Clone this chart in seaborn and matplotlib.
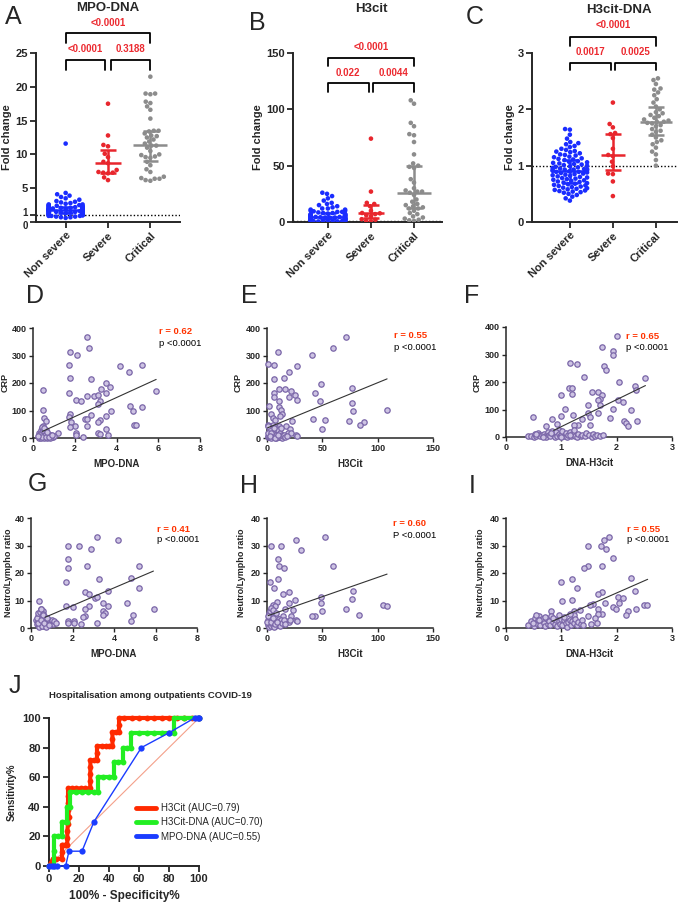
import numpy as np
import pandas as pd
import matplotlib
matplotlib.use('Agg')
import matplotlib.pyplot as plt
import matplotlib.transforms as mtransforms
import seaborn as sns
from matplotlib.lines import Line2D

sns.set_style('ticks')
plt.rcParams['font.family'] = ['Liberation Sans', 'DejaVu Sans']
plt.rcParams['font.weight'] = 'bold'
plt.rcParams['axes.labelweight'] = 'bold'

# ---------------- data ----------------
groups = ['Non severe', 'Severe', 'Critical']
group_colors = ['#1a2cff', '#e8262d', '#8c8c8c']

# A - MPO-DNA fold change
mpo_nonsevere = [11.6, 4.3, 4.1, 3.9, 3.7, 3.5, 3.3, 3.1, 3.0, 2.9, 2.8, 2.7, 2.6, 2.6, 2.5, 2.5,
                 2.4, 2.4, 2.3, 2.3, 2.3, 2.2, 2.2, 2.2, 2.1, 2.1, 2.1, 2.1, 2.0, 2.0, 2.0, 2.0,
                 1.9, 1.9, 1.9, 1.9, 1.9, 1.8, 1.8, 1.8, 1.8, 1.8, 1.7, 1.7, 1.7, 1.7, 1.7, 1.6,
                 1.6, 1.6, 1.6, 1.6, 1.5, 1.5, 1.5, 1.5, 1.5, 1.4, 1.4, 1.4, 1.4, 1.3, 1.3, 1.3,
                 1.3, 1.2, 1.2, 1.2, 1.1, 1.1, 1.1, 1.0, 1.0, 1.0, 0.9, 0.9, 0.9, 0.8, 0.8, 0.7,
                 0.7, 0.6]
mpo_severe = [17.5, 12.8, 11.4, 11.2, 10.1, 9.6, 8.9, 8.7, 7.7, 7.4, 7.3, 7.3, 7.2, 6.6, 6.2]
mpo_critical = [21.5, 19.0, 19.0, 18.9, 17.8, 17.6, 17.1, 16.6, 15.3, 13.5, 13.5, 13.4, 13.1,
                12.8, 12.7, 12.5, 12.2, 11.9, 11.6, 11.3, 11.3, 11.0, 10.5, 10.0, 9.9, 9.7,
                9.6, 9.5, 8.9, 8.4, 7.8, 7.4, 6.7, 6.5, 6.4, 6.4, 6.2, 6.1]

# B - H3cit fold change
h3_nonsevere = [26, 25, 23, 21, 19, 17, 16, 15, 14, 13, 12, 12, 11, 11, 10, 10, 9.5, 9, 9, 8.5,
                8, 8, 7.5, 7, 7, 6.5, 6.5, 6, 6, 6, 5.5, 5.5, 5, 5, 5, 5, 4.5, 4.5, 4.5, 4, 4,
                4, 4, 3.5, 3.5, 3.5, 3, 3, 3, 3, 2.5, 2.5, 2.5, 2, 2, 2, 2, 1.5, 1.5, 1.5, 1, 1,
                1, 1, 0.8, 0.6, 0.5, 0.4, 0.3, 0.2, 3.2, 4.2, 5.2, 2.8, 1.8, 6.2, 7.2, 3.8, 2.2, 4.8]
h3_severe = [74, 27, 17, 16, 14, 10, 8, 7.7, 7, 6, 5, 2.5, 2, 1, 0.5]
h3_critical = [108, 105, 88, 85, 78, 77, 71, 60, 52, 50, 49, 48, 38, 35, 30, 28, 27, 27, 26, 24,
               20, 18, 16, 15, 14, 13, 12, 12, 10, 8, 7, 5, 4, 3, 2, 1, 1.5]

# C - H3cit-DNA fold change
dna_nonsevere = [1.65, 1.64, 1.55, 1.48, 1.42, 1.40, 1.38, 1.35, 1.33, 1.30, 1.28, 1.26, 1.25,
                 1.22, 1.20, 1.18, 1.16, 1.15, 1.13, 1.12, 1.10, 1.08, 1.07, 1.05, 1.04, 1.02,
                 1.01, 1.00, 0.99, 0.98, 0.96, 0.95, 0.94, 0.93, 0.92, 0.92, 0.91, 0.90, 0.89,
                 0.88, 0.87, 0.86, 0.85, 0.84, 0.83, 0.82, 0.80, 0.79, 0.78, 0.77, 0.76, 0.75,
                 0.74, 0.73, 0.72, 0.71, 0.70, 0.69, 0.68, 0.67, 0.66, 0.65, 0.64, 0.63, 0.62,
                 0.61, 0.60, 0.59, 0.58, 0.57, 0.56, 0.55, 0.54, 0.53, 0.52, 0.50, 0.48, 0.45,
                 0.42, 0.38, 1.11, 1.06, 0.97, 0.93, 0.89, 0.81, 1.24, 1.19, 1.03, 0.94]
dna_severe = [2.12, 1.74, 1.68, 1.58, 1.56, 1.49, 1.30, 1.19, 1.17, 1.07, 0.99, 0.86, 0.85, 0.72, 0.46]
dna_critical = [2.55, 2.52, 2.45, 2.37, 2.35, 2.30, 2.25, 2.18, 2.12, 2.05, 2.0, 1.95, 1.93, 1.9,
                1.88, 1.85, 1.82, 1.8, 1.78, 1.78, 1.76, 1.75, 1.72, 1.7, 1.65, 1.62, 1.6, 1.55,
                1.5, 1.45, 1.42, 1.38, 1.32, 1.25, 1.2, 1.1, 1.0]

# D - MPO-DNA vs CRP
d_pts = [(2.59, 367), (2.69, 328), (1.79, 313), (2.11, 301), (1.71, 267), (4.19, 261), (5.2, 265),
         (4.61, 241), (1.79, 219), (2.8, 214), (3.52, 199), (3.68, 184), (3.28, 178), (3.49, 164),
         (1.71, 165), (5.89, 171), (0.5, 175), (2.61, 151), (2.93, 151), (3.12, 157), (3.2, 133),
         (2.05, 139), (2.32, 135), (3.12, 124), (4.67, 117), (5.2, 112), (4.8, 99), (0.48, 102),
         (3.73, 100), (1.79, 89), (2.8, 84), (3.49, 81), (1.71, 76), (0.51, 72), (2.48, 70),
         (2.59, 70), (3.2, 67), (0.61, 63), (1.84, 60), (3.09, 60), (2.0, 45), (1.79, 39),
         (2.61, 42), (4.86, 46), (4.93, 48), (3.49, 34), (2.08, 18), (2.08, 12), (3.12, 18),
         (3.23, 16), (3.6, 10), (2.4, 2), (1.2, 18),
         (0.3, 5), (0.35, 2), (0.4, 8), (0.45, 12), (0.5, 3), (0.55, 6), (0.6, 15), (0.65, 4),
         (0.7, 9), (0.75, 2), (0.8, 7), (0.85, 11), (0.9, 3), (0.3, 20), (0.38, 28), (0.42, 35),
         (0.5, 45), (0.55, 25), (0.48, 18), (0.62, 30), (0.35, 14), (0.58, 10), (0.72, 14),
         (0.95, 5), (1.0, 8), (0.28, 1), (0.4, 1), (0.52, 1), (0.66, 1), (0.8, 1), (0.33, 10),
         (0.44, 4), (0.6, 2), (0.78, 5), (0.5, 30), (0.45, 40), (0.55, 38), (0.68, 22),
         (0.25, 8), (0.9, 12)]
d_fit = ([0.45, 5.9], [24, 213])

# E - H3Cit vs CRP
e_pts = [(71, 367), (60, 327), (41, 301), (10, 313), (1, 268), (6, 264), (27, 261), (20, 240),
         (6, 213), (15, 219), (49, 198), (77, 183), (11, 177), (16, 177), (22, 170), (25, 158),
         (43, 164), (6, 165), (6, 149), (20, 149), (48, 133), (27, 137), (11, 135), (77, 127),
         (2, 116), (11, 113), (13, 103), (78, 99), (108, 101), (4, 88), (14, 86), (12, 80),
         (5, 74), (7, 67), (42, 70), (52, 67), (23, 61), (74, 61), (88, 58), (84, 48), (17, 44),
         (11, 44), (50, 34), (21, 34), (19, 19), (22, 18), (26, 10), (27, 7), (1, 46), (5, 46),
         (0.5, 2), (1, 8), (1.5, 15), (2, 3), (2.5, 25), (3, 5), (3.5, 12), (4, 1), (4.5, 30),
         (5, 7), (5.5, 18), (6, 2), (6.5, 10), (7, 40), (7.5, 4), (8, 22), (8.5, 1), (9, 14),
         (9.5, 6), (10, 28), (10.5, 3), (11, 9), (11.5, 17), (12, 2), (12.5, 35), (13, 5),
         (13.5, 12), (14, 1), (14.5, 8), (2, 40), (3, 33), (1, 20), (0.8, 45), (6, 36), (8, 12),
         (9, 3), (4, 18), (3, 9), (7, 1), (10, 12), (15, 10), (16, 5), (18, 8)]
e_fit = ([0.5, 108.5], [37, 215])

# F - DNA-H3cit vs CRP
f_pts = [(2.01, 367), (1.73, 327), (1.93, 314), (1.93, 298), (1.16, 268), (1.29, 265), (1.78, 260),
         (1.80, 242), (1.41, 220), (2.52, 216), (2.04, 199), (2.33, 184), (1.0, 151), (1.13, 178),
         (1.19, 178), (1.2, 157), (1.55, 165), (1.67, 163), (1.74, 151), (1.70, 139), (1.66, 135),
         (2.03, 135), (2.11, 126), (2.35, 172), (1.49, 115), (1.69, 115), (1.07, 103), (2.25, 99),
         (1.93, 103), (1.21, 81), (1.0, 77), (1.48, 87), (1.67, 87), (1.51, 71), (1.88, 69),
         (0.48, 71), (1.37, 66), (0.83, 66), (2.13, 60), (2.36, 59), (2.16, 50), (2.21, 39),
         (1.52, 45), (1.31, 45), (1.23, 42), (0.93, 47), (0.73, 39), (0.95, 27), (0.83, 23),
         (0.4, 2), (0.45, 5), (0.5, 1), (0.52, 10), (0.55, 3), (0.58, 15), (0.6, 6), (0.62, 2),
         (0.65, 8), (0.68, 12), (0.7, 4), (0.72, 1), (0.75, 20), (0.78, 7), (0.8, 3), (0.85, 10),
         (0.88, 1), (0.9, 18), (0.92, 5), (0.95, 12), (0.98, 2), (1.0, 8), (1.02, 22), (1.05, 4),
         (1.08, 14), (1.1, 1), (1.12, 6), (1.15, 18), (1.18, 3), (1.2, 10), (1.22, 26), (1.25, 5),
         (1.28, 1), (1.3, 12), (1.35, 4), (1.38, 8), (1.42, 2), (1.45, 15), (1.5, 6), (1.55, 1),
         (1.58, 10), (1.6, 3), (1.65, 8), (1.7, 2), (1.75, 9), (0.55, 12), (0.66, 1), (0.82, 14),
         (1.0, 1), (1.15, 9)]
f_fit = ([0.86, 2.52], [24, 187])

# G - MPO-DNA vs Neutro/Lympho ratio
g_pts = [(3.2, 33.1), (4.19, 31.9), (1.8, 29.8), (2.32, 29.9), (2.9, 28.6), (1.8, 25.1), (1.8, 21.7),
         (2.69, 22.5), (5.19, 22.5), (1.69, 16.9), (3.29, 17.8), (4.81, 18.3), (5.19, 14.5),
         (3.69, 13.6), (2.61, 13.0), (2.8, 12.3), (3.09, 10.8), (3.17, 11.2), (1.67, 8.1), (2.8, 8.1),
         (3.7, 8.1), (2.01, 7.6), (3.49, 9.0), (4.62, 9.0), (2.61, 6.9), (5.91, 7.0), (3.49, 6.3),
         (3.57, 5.4), (4.91, 4.8), (2.61, 4.2), (3.49, 4.6), (2.5, 3.9), (1.8, 2.7), (1.8, 2.0),
         (2.08, 2.7), (2.08, 1.8), (2.4, 1.4), (3.2, 1.8), (4.81, 2.7), (0.4, 9.9), (0.47, 7.0),
         (0.6, 6.3),
         (0.25, 3), (0.3, 1.5), (0.32, 4.5), (0.35, 2.5), (0.38, 0.8), (0.4, 3.5), (0.42, 1.8),
         (0.45, 5), (0.48, 2.8), (0.5, 1.2), (0.52, 4), (0.55, 2.2), (0.58, 0.6), (0.6, 3.2),
         (0.62, 1.6), (0.65, 4.4), (0.68, 2.6), (0.7, 1.0), (0.72, 3.6), (0.75, 2.0), (0.8, 1.4),
         (0.85, 3.0), (0.9, 2.4), (0.95, 1.8), (1.0, 2.8), (1.05, 1.6), (1.1, 2.6), (1.2, 2.0),
         (0.3, 3.8), (0.36, 5.6), (0.44, 6.0), (0.5, 6.8), (0.56, 5.2), (0.6, 4.8), (0.4, 0.5),
         (0.55, 0.9), (0.7, 0.4), (0.33, 2.0), (0.47, 3.0), (0.63, 2.0), (0.78, 3.8), (0.88, 1.0)]
g_fit = ([0.68, 5.9], [3.9, 20.7])

# H - H3Cit vs Neutro/Lympho ratio
h_pts = [(52, 33.1), (26.5, 31.9), (4, 29.8), (12.3, 29.9), (31, 28.3), (10, 25.1), (10.8, 22.5),
         (15, 21.7), (60, 22.5), (10, 17.7), (2.4, 16.9), (6.3, 14.5), (77.7, 13.6), (19.6, 13.0),
         (14.5, 12.3), (48.5, 11.2), (76.8, 10.6), (25, 10.2), (9, 9.6), (5.4, 8.2), (6.9, 8.1),
         (19.6, 9.0), (49, 9.0), (104.8, 8.2), (108.4, 8.1), (71, 6.9), (50, 6.3), (16, 6.9),
         (23.5, 6.4), (83, 4.8), (43, 4.5), (41, 4.2), (22, 4.5), (26.5, 3.0), (27.4, 2.7),
         (17.5, 2.4), (20, 2.2), (12, 1.6), (20.5, 3.0), (14.5, 4.2),
         (0.5, 1), (1, 3), (1.5, 0.5), (2, 2), (2.5, 4), (3, 1.5), (3.5, 3.5), (4, 0.8), (4.5, 2.5),
         (5, 5), (5.5, 1.2), (6, 3), (6.5, 2), (7, 4.5), (7.5, 0.6), (8, 2.8), (8.5, 1.8), (9, 3.8),
         (9.5, 1), (10, 2.4), (10.5, 3.2), (11, 1.5), (11.5, 2.6), (12, 0.9), (13, 3), (14, 2),
         (15, 2.8), (16, 1.6), (2, 5.5), (3, 6.2), (4, 7.2), (5, 6.5), (1, 4.2), (0.3, 2.2),
         (6, 0.3), (8, 5.5), (3.5, 2.2), (5.5, 3.8), (7, 1.5), (9, 2.2)]
h_fit = ([1, 108.5], [4.5, 19.6])

# I - DNA-H3cit vs Neutro/Lympho ratio
i_pts = [(1.87, 33.1), (1.78, 31.9), (1.71, 29.9), (1.49, 29.8), (1.81, 28.6), (1.94, 25.3),
         (1.49, 22.5), (1.73, 22.5), (1.41, 21.9), (2.25, 18.3), (1.19, 17.8), (1.0, 16.9),
         (1.29, 14.5), (2.34, 13.6), (1.74, 13.0), (1.67, 12.4), (2.03, 11.4), (2.11, 10.8),
         (1.2, 10.2), (1.02, 9.9), (1.57, 8.7), (1.79, 9.0), (2.04, 9.0), (1.94, 7.8), (2.5, 8.2),
         (2.54, 8.2), (1.52, 8.2), (1.99, 6.9), (2.35, 7.0), (1.34, 6.6), (1.66, 7.0), (0.82, 6.3),
         (1.23, 6.3), (2.21, 6.3), (1.73, 5.2), (2.16, 4.8), (1.67, 5.1), (1.49, 4.2), (1.61, 3.6),
         (1.22, 4.8), (1.54, 1.4), (1.64, 1.8),
         (0.4, 1.2), (0.45, 2.5), (0.5, 0.8), (0.52, 3.8), (0.55, 1.8), (0.58, 2.8), (0.6, 4.2),
         (0.62, 1.0), (0.65, 3.2), (0.68, 2.0), (0.7, 0.6), (0.72, 3.6), (0.75, 1.5), (0.78, 2.6),
         (0.8, 1.0), (0.82, 4.5), (0.85, 2.2), (0.88, 1.4), (0.9, 3.0), (0.92, 0.7), (0.95, 2.4),
         (0.98, 1.6), (1.0, 3.4), (1.02, 1.1), (1.05, 2.8), (1.08, 1.8), (1.1, 0.5), (1.12, 2.2),
         (1.15, 3.0), (1.18, 1.2), (1.2, 2.5), (1.22, 1.8), (1.25, 3.2), (1.28, 1.0), (1.3, 2.2),
         (1.35, 1.6), (1.38, 2.8), (1.4, 1.2), (0.55, 4.8), (0.7, 4.0), (0.6, 3.0), (0.95, 4.6),
         (1.05, 4.0), (0.48, 2.0), (0.85, 3.6), (1.16, 5.0)]
i_fit = ([0.83, 2.56], [2.4, 17.7])

# J - ROC curves
h3_fpr = [0, 2.7, 5, 8.7, 8.7, 8.7, 10.5, 12.2, 12.2, 12.2, 12.7, 13.3, 12.7, 12.7, 12.7, 12.7,
          15, 18, 21, 24, 27.5, 27.5, 27.5, 27.6, 27.6, 30, 32, 32, 32, 35, 38, 40, 42.3, 42.3,
          42.3, 44.5, 46.7, 46.7, 46.7, 50, 55, 60, 65, 70, 75, 80, 85, 90, 95, 100]
h3_tpr = [0, 4.8, 4.8, 4.8, 9.5, 14.3, 14.3, 14.3, 19, 23.8, 28.6, 33.3, 38.1, 42.9, 47.6, 52.4,
          52.4, 52.4, 52.4, 52.4, 52.4, 57.1, 61.9, 66.7, 71.4, 71.4, 71.4, 76.2, 81, 81, 81, 81,
          81, 85.7, 90.5, 90.5, 90.5, 95.2, 100, 100, 100, 100, 100, 100, 100, 100, 100, 100, 100, 100]
dna_fpr = [0, 3.5, 3.5, 3.5, 6, 9, 9, 11, 12, 12, 14, 14, 18, 22, 26, 30, 32.7, 32.7, 36, 40, 43,
           43, 46, 49.5, 49.5, 52, 54.5, 54.5, 60, 65, 70, 75, 80, 83.5, 83.5, 90, 100]
dna_tpr = [0, 0, 10, 20, 20, 20, 30, 30, 30, 40, 40, 50, 50, 50, 50, 50, 50, 60, 60, 60, 60, 70,
           70, 70, 80, 80, 80, 90, 90, 90, 90, 90, 90, 90, 100, 100, 100]
mpo_fpr = [0, 2.2, 3.3, 5.5, 11.1, 13.3, 22, 30, 61.6, 80, 97, 99.3, 100]
mpo_tpr = [0, 0, 0, 0, 0, 10, 10, 30, 80, 90, 100, 100, 100]
roc_labels = ['H3Cit (AUC=0.79)', 'H3Cit-DNA (AUC=0.70)', 'MPO-DNA (AUC=0.55)']
roc_colors = ['#ff2a00', '#22ee22', '#1a3cff']

RED = '#ec2a30'
R_RED = '#ff3300'
PURPLE_EDGE = '#7a66a8'
PURPLE_FILL = '#cdc3e3'

W, H = 685, 902
fig = plt.figure(figsize=(W / 100, H / 100), dpi=100)


def box(x0, y0, x1, y1):
    return [x0 / W, 1 - y1 / H, (x1 - x0) / W, (y1 - y0) / H]


def ftext(x, y, s, **kw):
    fig.text(x / W, 1 - y / H, s, **kw)


def letter(x, y, s):
    ftext(x, y, s, fontsize=18, fontweight='normal', ha='center', va='center')


# ---------------- top row: dot plots ----------------
def dot_panel(rect, values, ylim, yticks, xlim, brackets, med_w):
    ax = fig.add_axes(box(*rect))
    df = pd.DataFrame({'group': np.repeat(groups, [len(v) for v in values]),
                       'value': np.concatenate(values)})
    sns.swarmplot(data=df, x='group', y='value', hue='group', order=groups,
                  palette=dict(zip(groups, group_colors)), size=3.3, linewidth=0,
                  legend=False, ax=ax, warn_thresh=1, zorder=3)
    for i, (v, c) in enumerate(zip(values, group_colors)):
        med = np.median(v)
        q1, q3 = np.percentile(v, [25, 75])
        ax.hlines(med, i - med_w[i] / 2, i + med_w[i] / 2, color=c, lw=1.8, zorder=5)
        ax.vlines(i, q1, q3, color=c, lw=1.8, zorder=5)
        ax.hlines([q1, q3], i - 0.18, i + 0.18, color=c, lw=1.8, zorder=5)
    ax.axhline(1, color='black', ls=(0, (1, 1.5)), lw=1.0, zorder=2)
    for x1, x2, y, h, txt, ty in brackets:
        ax.plot([x1, x1, x2, x2], [y - h, y, y, y - h], color='black', lw=1.3, clip_on=False)
        ax.text((x1 + x2) / 2, ty, txt, ha='center', va='center', color=RED,
                fontsize=7, fontweight='bold', clip_on=False)
    ax.set_xlim(xlim)
    ax.set_ylim(ylim)
    ax.set_yticks(yticks)
    ax.set_xlabel('')
    ax.set_ylabel('Fold change', fontsize=8, labelpad=2)
    ax.set_xticks(range(3))
    ax.set_xticklabels(groups, rotation=45, ha='right', rotation_mode='anchor')
    ax.tick_params(length=4, width=1.3, labelsize=8, pad=2)
    for s in ['left', 'bottom']:
        ax.spines[s].set_linewidth(1.4)
    sns.despine(ax=ax)
    return ax


axA = dot_panel((36, 53, 180, 222), [mpo_nonsevere, mpo_severe, mpo_critical], (0, 25),
                [0, 1, 5, 10, 15, 20, 25], (-0.7, 2.7),
                [(0, 0.93, 24.0, 1.5, '<0.0001', 25.6), (1.07, 2, 24.0, 1.5, '0.3188', 25.6),
                 (0, 2, 27.9, 1.4, '<0.0001', 29.4)], [0.8, 0.6, 0.8])
# the "0" and "1" ticks sit very close: nudge them apart slightly
ylabs = axA.get_yticklabels()
for lab, dy in [(ylabs[0], -2.5), (ylabs[1], 2.5)]:
    lab.set_fontsize(7)
    lab.set_transform(lab.get_transform() + mtransforms.ScaledTranslation(0, dy / 72, fig.dpi_scale_trans))
ftext(108, 8, 'MPO-DNA', fontsize=9.5, ha='center', va='center')
letter(13, 17, 'A')

dot_panel((293, 53, 442, 222), [h3_nonsevere, h3_severe, h3_critical], (0, 150),
          [0, 50, 100, 150], (-0.81, 2.65),
          [(0, 0.95, 123, 7.4, '0.022', 132), (1.05, 2, 123, 7.4, '0.0044', 132),
           (0, 2, 146, 7.3, '<0.0001', 155.5)], [0.8, 0.6, 0.8])
ftext(371, 9, 'H3cit', fontsize=9.5, ha='center', va='center')
letter(257, 23, 'B')

dot_panel((532, 53, 677, 222), [dna_nonsevere, dna_severe, dna_critical], (0, 3),
          [0, 1, 2, 3], (-0.88, 2.49),
          [(0, 0.95, 2.83, 0.14, '0.0017', 3.02), (1.05, 2, 2.83, 0.14, '0.0025', 3.02),
           (0, 2, 3.29, 0.16, '<0.0001', 3.50)], [0.8, 0.55, 0.75])
ftext(619, 10, 'H3cit-DNA', fontsize=9.5, ha='center', va='center')
letter(475, 17, 'C')


# ---------------- correlation panels ----------------
def corr_panel(rect, pts, xlim, xticks, ylim, yticks, fit, xlabel, ylabel, ylabelpad):
    ax = fig.add_axes(box(*rect))
    df = pd.DataFrame(pts, columns=['x', 'y'])
    sns.scatterplot(data=df, x='x', y='y', s=15, color=PURPLE_FILL, edgecolor=PURPLE_EDGE,
                    linewidth=0.9, ax=ax, clip_on=False, zorder=3)
    sns.lineplot(x=fit[0], y=fit[1], color='#333333', lw=0.8, ax=ax, zorder=4)
    ax.set_xlim(xlim)
    ax.set_ylim(ylim)
    ax.set_xticks(xticks)
    ax.set_yticks(yticks)
    ax.set_xlabel(xlabel, fontsize=7, labelpad=4)
    ax.set_ylabel(ylabel, fontsize=6.5, labelpad=ylabelpad)
    ax.tick_params(length=3, width=1, labelsize=6.5, pad=1.5)
    for s in ['left', 'bottom']:
        ax.spines[s].set_linewidth(1.1)
    sns.despine(ax=ax)
    return ax


def corr_text(x, y, r, p):
    ftext(x, y, r, fontsize=6.8, color=R_RED, fontweight='bold', va='center')
    ftext(x, y + 11, p, fontsize=6.8, color='black', fontweight='normal', va='center')


corr_panel((33, 328, 200, 438), d_pts, (0, 8), [0, 2, 4, 6, 8], (0, 400),
           [0, 100, 200, 300, 400], d_fit, 'MPO-DNA', 'CRP', 1.5)
corr_text(159, 332, 'r = 0.62', 'p <0.0001')
letter(35, 296, 'D')

corr_panel((267, 328, 433, 438), e_pts, (0, 150), [0, 50, 100, 150], (0, 400),
           [0, 100, 200, 300, 400], e_fit, 'H3Cit', 'CRP', 2.5)
corr_text(394, 336, 'r = 0.55', 'p <0.0001')
letter(249, 296, 'E')

corr_panel((506, 327, 672, 437), f_pts, (0, 3), [0, 1, 2, 3], (0, 400),
           [0, 100, 200, 300, 400], f_fit, 'DNA-H3cit', 'CRP', 2.5)
corr_text(626, 337, 'r = 0.65', 'p <0.0001')
letter(472, 296, 'F')

corr_panel((31, 518, 197, 628), g_pts, (0, 8), [0, 2, 4, 6, 8], (0, 40),
           [0, 10, 20, 30, 40], g_fit, 'MPO-DNA', 'Neutro/Lympho ratio', 1.5)
corr_text(157, 529, 'r = 0.41', 'p <0.0001')
letter(37, 484, 'G')

corr_panel((267, 518, 433, 628), h_pts, (0, 150), [0, 50, 100, 150], (0, 40),
           [0, 10, 20, 30, 40], h_fit, 'H3Cit', 'Neutro/Lympho ratio', 3)
corr_text(393, 524, 'r = 0.60', 'P <0.0001')
letter(249, 486, 'H')

corr_panel((506, 518, 672, 628), i_pts, (0, 3), [0, 1, 2, 3], (0, 40),
           [0, 10, 20, 30, 40], i_fit, 'DNA-H3cit', 'Neutro/Lympho ratio', 3)
corr_text(627, 529, 'r = 0.55', 'p <0.0001')
letter(472, 486, 'I')

# ---------------- ROC panel ----------------
ax = fig.add_axes(box(49, 718, 199, 866))
sns.lineplot(x=[0, 100], y=[0, 100], color='#f4a08a', lw=0.8, ax=ax, zorder=1)
sns.lineplot(x=h3_fpr, y=h3_tpr, estimator=None, sort=False, color=roc_colors[0], lw=3,
             marker='o', markersize=4.2, markeredgewidth=0, ax=ax, clip_on=False, zorder=3)
sns.lineplot(x=dna_fpr, y=dna_tpr, estimator=None, sort=False, color=roc_colors[1], lw=3,
             marker='o', markersize=4.2, markeredgewidth=0, ax=ax, clip_on=False, zorder=4)
sns.lineplot(x=mpo_fpr, y=mpo_tpr, estimator=None, sort=False, color=roc_colors[2], lw=1.0,
             marker='o', markersize=4.5, markeredgewidth=0, ax=ax, clip_on=False, zorder=5)
ax.set_xlim(0, 100)
ax.set_ylim(0, 100)
ax.set_xticks(range(0, 101, 20))
ax.set_yticks(range(0, 101, 20))
ax.set_xlabel('100% - Specificity%', fontsize=8.5, labelpad=4)
ax.set_ylabel('Sensitivity%', fontsize=7, labelpad=4)
ax.tick_params(length=4, width=1.3, labelsize=8, pad=2)
for s in ['left', 'bottom']:
    ax.spines[s].set_linewidth(1.4)
sns.despine(ax=ax)
handles = [Line2D([], [], color=c, lw=3.5) for c in roc_colors]
ax.legend(handles, roc_labels, loc='upper left', bbox_to_anchor=(136 / W, 1 - 803 / H),
          bbox_transform=fig.transFigure, frameon=False, prop={'size': 7, 'weight': 'normal'},
          handlelength=2.1, handletextpad=0.5, labelspacing=0.45, borderpad=0, borderaxespad=0)
ftext(150, 695, 'Hospitalisation among outpatients COVID-19', fontsize=6.8, ha='center', va='center')
letter(15, 686, 'J')

fig.savefig('out.png', dpi=100)
